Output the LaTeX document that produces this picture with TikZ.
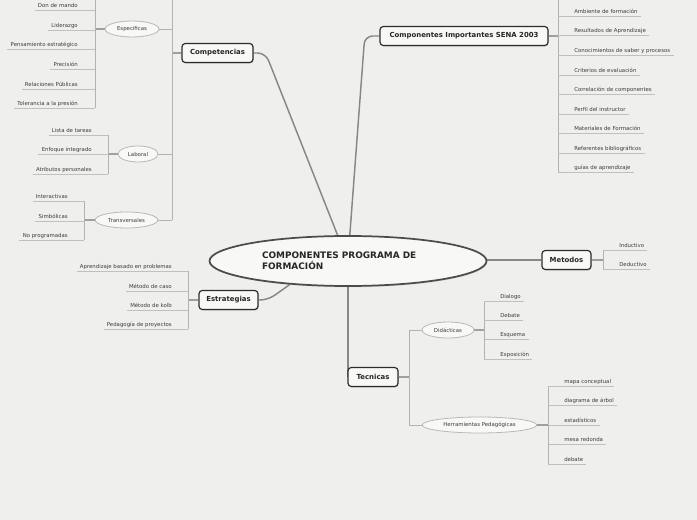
\documentclass[tikz,border=0pt]{standalone}
\usepackage{fontspec}
\setmainfont{DejaVu Sans}
\usetikzlibrary{shapes.geometric, shadows}
\definecolor{paper}{RGB}{239,240,238}
\definecolor{boxfill}{RGB}{248,248,246}
\definecolor{boxline}{RGB}{45,45,45}
\definecolor{trunkgray}{RGB}{135,135,135}
\definecolor{bargray}{RGB}{178,178,178}
\definecolor{twiggray}{RGB}{192,192,192}
\definecolor{subline}{RGB}{184,184,184}
\definecolor{leaftext}{RGB}{60,60,60}
\pgfdeclarelayer{paperlayer}
\pgfdeclarelayer{edgelayer}
\pgfsetlayers{paperlayer,edgelayer,main}
\newcommand{\leafsize}{\fontsize{4.05}{5}\selectfont}
\newcommand{\hubsize}{\fontsize{5.2}{6}\selectfont\bfseries}

\begin{document}
\begin{tikzpicture}[
  x=0.75pt, y=-0.75pt,
  every node/.style = {text=leaftext},
  root/.style   = {ellipse, draw=boxline!85, line width=1.3pt, fill=boxfill,
                   minimum width=207.75pt, minimum height=37.5pt,
                   text width=129pt, align=left, inner sep=0pt,
                   font=\fontsize{6.7}{8.25}\selectfont\bfseries, text=black!85,
                   drop shadow={opacity=0.25, shadow xshift=0.6pt, shadow yshift=-0.9pt}},
  hub/.style    = {rectangle, rounded corners=2.5pt, draw=boxline, line width=0.9pt,
                   fill=boxfill, minimum width=#1, minimum height=14.25pt,
                   inner sep=0pt, font=\hubsize, text=black!85,
                   drop shadow={opacity=0.3, shadow xshift=0.5pt, shadow yshift=-0.8pt}},
  sub/.style    = {ellipse, draw=subline, fill=boxfill, line width=0.6pt,
                   minimum width=#1, minimum height=12pt, inner sep=0pt, font=\leafsize},
  leafl/.style  = {anchor=south east, font=\leafsize, inner xsep=2.25pt, inner ysep=1pt,
                   text height=3pt, text depth=1pt},
  leafr/.style  = {leafl, anchor=south west},
  trunk/.style  = {draw=trunkgray, line width=1.1pt, rounded corners=6pt},
  stub/.style   = {draw=trunkgray!80, line width=1.4pt},
  bar/.style    = {draw=bargray, line width=0.7pt},
  twig/.style   = {draw=twiggray, line width=0.7pt}
]
\begin{pgfonlayer}{paperlayer}
  \fill[paper] (0,0) rectangle (697,520);
\end{pgfonlayer}
\useasboundingbox (0,0) rectangle (697,520);

% centre and main branches
\node[root] (root) at (348,261) {COMPONENTES PROGRAMA DE\\FORMACIÓN};
\node[hub=53.25pt] (comp)  at (217.5,53) {Competencias};
\node[hub=126pt]   (sena)  at (464,36)   {Componentes Importantes SENA 2003};
\node[hub=36.75pt] (met)   at (566.5,260) {Metodos};
\node[hub=44.25pt] (strat) at (228.5,300) {Estrategias};
\node[hub=37.5pt]  (tec)   at (373,377)  {Tecnicas};

% second level
\node[sub=40.5pt] (esp)   at (132,29)    {Especificas};
\node[sub=30pt]   (lab)   at (138,154)   {Laboral};
\node[sub=47pt]   (trans) at (126.5,220) {Transversales};
\node[sub=39pt]   (did)   at (448,330)   {Didácticas};
\node[sub=86pt]   (herr)  at (479.5,425) {Herramientas Pedagógicas};

% bars
\coordinate (compbar)  at (172,0);
\coordinate (espbar)   at (95,0);
\coordinate (labbar)   at (108,0);
\coordinate (transbar) at (84,0);
\coordinate (stratbar) at (188,0);
\coordinate (senabar)  at (558,0);
\coordinate (metbar)   at (603,0);
\coordinate (tecbar)   at (409,0);
\coordinate (didbar)   at (484,0);
\coordinate (herrbar)  at (548,0);

% Especificas
\node[leafl] (e1) at (81,10)  {Don de mando};
\node[leafl] (e2) at (81,30)  {Liderazgo};
\node[leafl] (e3) at (81,49)  {Pensamiento estratégico};
\node[leafl] (e4) at (81,69)  {Precisión};
\node[leafl] (e5) at (81,89)  {Relaciones Públicas};
\node[leafl] (e6) at (81,108) {Tolerancia a la presión};

% Laboral
\node[leafl] (l1) at (95,135) {Lista de tareas};
\node[leafl] (l2) at (95,154) {Enfoque integrado};
\node[leafl] (l3) at (95,174) {Atributos personales};

% Transversales
\node[leafl] (t1) at (71,201) {Interactivas};
\node[leafl] (t2) at (71,221) {Simbólicas};
\node[leafl] (t3) at (71,240) {No programadas};

% Estrategias
\node[leafl] (s1) at (175,271) {Aprendizaje basado en problemas};
\node[leafl] (s2) at (175,291) {Método de caso};
\node[leafl] (s3) at (175,310) {Método de kolb};
\node[leafl] (s4) at (175,329) {Pedagogía de proyectos};

% Componentes SENA
\node[leafr] (c1) at (571,16)  {Ambiente de formación};
\node[leafr] (c2) at (571,35)  {Resultados de Aprendizaje};
\node[leafr] (c3) at (571,55)  {Conocimientos de saber y procesos};
\node[leafr] (c4) at (571,75)  {Criterios de evaluación};
\node[leafr] (c5) at (571,94)  {Correlación de componentes};
\node[leafr] (c6) at (571,114) {Perfil del instructor};
\node[leafr] (c7) at (571,133) {Materiales de Formación};
\node[leafr] (c8) at (571,153) {Referentes bibliográficos};
\node[leafr] (c9) at (571,172) {guías de aprendizaje};

% Metodos
\node[leafr] (m1) at (616,250) {Inductivo};
\node[leafr] (m2) at (616,269) {Deductivo};

% Didacticas
\node[leafr] (d1) at (497,301) {Dialogo};
\node[leafr] (d2) at (497,320) {Debate};
\node[leafr] (d3) at (497,339) {Esquema};
\node[leafr] (d4) at (497,359) {Exposición};

% Herramientas
\node[leafr] (h1) at (561,386) {mapa conceptual};
\node[leafr] (h2) at (561,405) {diagrama de árbol};
\node[leafr] (h3) at (561,425) {estadísticos};
\node[leafr] (h4) at (561,444) {mesa redonda};
\node[leafr] (h5) at (561,464) {debate};

\begin{pgfonlayer}{edgelayer}
\draw[trunk] (root.112) -- ([xshift=9pt]comp.east) -- (comp.east);
\draw[trunk] (root.86) -- ([xshift=-11pt]sena.west) -- (sena.west);
\draw[trunk] (root.east |- met.west) -- (met.west);
\draw[trunk] (root.202) -- ([xshift=7pt]strat.east) -- (strat.east);
\draw[trunk] (root.south) -- (root.south |- tec.west);

\draw[stub] (comp.west) -- (comp.west -| compbar);
\draw[bar] (compbar) -- (trans.east -| compbar);
\draw[bar] (esp.east -| compbar) -- (esp.east);
\draw[bar] (lab.east -| compbar) -- (lab.east);
\draw[bar] (trans.east -| compbar) -- (trans.east);

\draw[stub] (esp.west) -- (esp.west -| espbar);
\draw[bar] (espbar) -- (e6.south -| espbar);
\foreach \n in {e1,e2,e3,e4,e5,e6} \draw[twig] (\n.south west) -- (\n.south -| espbar);

\draw[stub] (lab.west) -- (lab.west -| labbar);
\draw[bar] (l1.south -| labbar) -- (l3.south -| labbar);
\foreach \n in {l1,l2,l3} \draw[twig] (\n.south west) -- (\n.south -| labbar);

\draw[stub] (trans.west) -- (trans.west -| transbar);
\draw[bar] (t1.south -| transbar) -- (t3.south -| transbar);
\foreach \n in {t1,t2,t3} \draw[twig] (\n.south west) -- (\n.south -| transbar);

\draw[stub] (strat.west) -- (strat.west -| stratbar);
\draw[bar] (s1.south -| stratbar) -- (s4.south -| stratbar);
\foreach \n in {s1,s2,s3,s4} \draw[twig] (\n.south west) -- (\n.south -| stratbar);

\draw[stub] (sena.east) -- (sena.east -| senabar);
\draw[bar] (senabar) -- (c9.south -| senabar);
\foreach \n in {c1,c2,c3,c4,c5,c6,c7,c8,c9} \draw[twig] (\n.south -| senabar) -- (\n.south east);

\draw[stub] (met.east) -- (met.east -| metbar);
\draw[bar] (m1.south -| metbar) -- (m2.south -| metbar);
\foreach \n in {m1,m2} \draw[twig] (\n.south -| metbar) -- (\n.south east);

\draw[stub] (tec.east) -- (tec.east -| tecbar);
\draw[bar] (did.west -| tecbar) -- (herr.west -| tecbar);
\draw[bar] (did.west -| tecbar) -- (did.west);
\draw[bar] (herr.west -| tecbar) -- (herr.west);

\draw[stub] (did.east) -- (did.east -| didbar);
\draw[bar] (d1.south -| didbar) -- (d4.south -| didbar);
\foreach \n in {d1,d2,d3,d4} \draw[twig] (\n.south -| didbar) -- (\n.south east);

\draw[stub] (herr.east) -- (herr.east -| herrbar);
\draw[bar] (h1.south -| herrbar) -- (h5.south -| herrbar);
\foreach \n in {h1,h2,h3,h4,h5} \draw[twig] (\n.south -| herrbar) -- (\n.south east);
\end{pgfonlayer}
\end{tikzpicture}
\end{document}
